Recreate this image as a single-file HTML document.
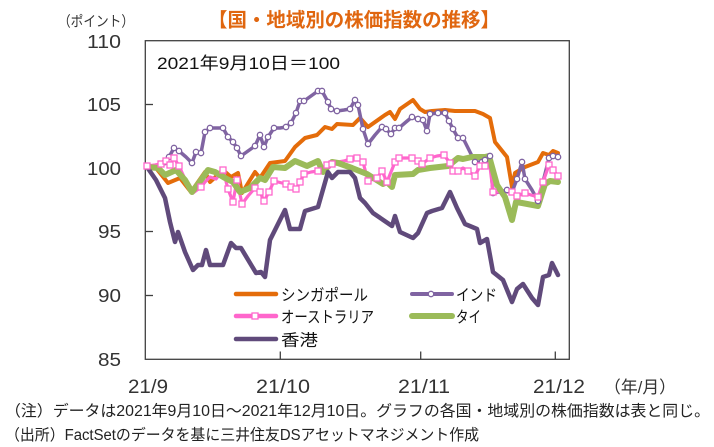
<!DOCTYPE html>
<html><head><meta charset="utf-8"><style>
html,body{margin:0;padding:0;background:#fff;}
svg{display:block;}
text{font-family:"Liberation Sans","Noto Sans CJK JP",sans-serif;}
</style></head><body>
<svg width="714" height="447" viewBox="0 0 714 447" xmlns="http://www.w3.org/2000/svg">
<rect width="714" height="447" fill="#fff"/>
<!-- title -->
<text x="208" y="26.5" font-size="19.5" font-weight="bold" fill="#E0660F" textLength="292" lengthAdjust="spacingAndGlyphs">【国・地域別の株価指数の推移】</text>
<text x="58" y="26.5" font-size="14.5" fill="#333" textLength="76" lengthAdjust="spacingAndGlyphs">（ポイント）</text>
<!-- y labels -->
<g font-size="18" fill="#333" text-anchor="end">
<text x="121" y="48" textLength="34" lengthAdjust="spacingAndGlyphs">110</text>
<text x="121" y="111" textLength="34" lengthAdjust="spacingAndGlyphs">105</text>
<text x="121" y="175" textLength="34" lengthAdjust="spacingAndGlyphs">100</text>
<text x="121" y="238" textLength="23" lengthAdjust="spacingAndGlyphs">95</text>
<text x="121" y="302" textLength="23" lengthAdjust="spacingAndGlyphs">90</text>
<text x="121" y="366" textLength="23" lengthAdjust="spacingAndGlyphs">85</text>
</g>
<!-- x labels -->
<g font-size="19.5" fill="#333">
<text x="128" y="393" textLength="40" lengthAdjust="spacingAndGlyphs">21/9</text>
<text x="256" y="393" textLength="54" lengthAdjust="spacingAndGlyphs">21/10</text>
<text x="398" y="393" textLength="52" lengthAdjust="spacingAndGlyphs">21/11</text>
<text x="533" y="393" textLength="52" lengthAdjust="spacingAndGlyphs">21/12</text>
<text x="604" y="393" font-size="17" textLength="72" lengthAdjust="spacingAndGlyphs">（年/月）</text>
</g>
<!-- frame -->
<rect x="145.3" y="40.7" width="424" height="318.6" fill="none" stroke="#404040" stroke-width="1.3"/>
<g stroke="#404040" stroke-width="1.3">
<line x1="145" y1="104.5" x2="153" y2="104.5"/>
<line x1="145" y1="168" x2="153" y2="168"/>
<line x1="145" y1="231.5" x2="153" y2="231.5"/>
<line x1="145" y1="295.5" x2="153" y2="295.5"/>
<line x1="280.3" y1="359" x2="280.3" y2="351.5"/>
<line x1="420.7" y1="359" x2="420.7" y2="351.5"/>
<line x1="555.3" y1="359" x2="555.3" y2="351.5"/>
</g>
<text x="157" y="69" font-size="17" fill="#111" textLength="183" lengthAdjust="spacingAndGlyphs">2021年9月10日＝100</text>
<!-- series -->
<g fill="none" stroke-linejoin="round" stroke-linecap="round">
<polyline stroke="#E46C0A" stroke-width="4" points="147,167 156,168 168,183 180,178 191,192 205,172 210,182 223,170 231,177 238,173 242,193 255,172 260,178 270,163 285,161 295,147 305,138 317,135 325,127 332,129 337,124 353,125 360,118 368,127 385,115 390,112 395,119 400,109 413,100 420,109 425,112 432,111 445,110 455,111 475,111 483,114 490,118 495,142 507,157 512,187 515,173 525,167 538,162 543,153 549,155 553,151 558,153"/>
<polyline id="ind" stroke="#8064A2" stroke-width="3.5" points="147,167 156,167 165,162 169,157 174,148 179,151 186,157 192,163 196,152 201,153 205,132 210,128 216,128 223,128 228,137 233,142 237,148 241,156 248,151 255,146 260,135 264,147 268,137 274,128 280,128 286,127 291,123 296,113 300,101 304,101 311,96 318,91 322,91 328,102 331,109 337,111 344,110 350,109 355,100 358,105 363,129 368,144 375,135 382,127 386,129 391,134 395,128 399,128 406,122 412,117 418,119 423,120 427,131 430,114 438,113 445,113 449,121 453,129 458,138 463,138 469,150 475,162 482,162 485,160 490,156 493,193 500,192 507,190 512,192 517,179 522,162 525,179 532,190 538,201 543,182 549,158 553,156 558,157"/>
<polyline stroke="#FF66CC" stroke-width="3.2" points="147,166 155,165 161,164 166,161 170,165 174,158 179,166 185,179 193,193 201,187 205,182 210,177 216,179 223,170 228,189 233,202 237,180 242,204 248,196 255,188 260,192 264,201 269,192 274,181 286,184 291,187 296,189 300,182 304,174 311,172 318,171 322,168 327,165 332,164 338,162 344,161 350,159 357,158 363,162 368,181 377,178 382,171 387,182 395,162 399,158 406,158 412,158 418,161 422,164 430,158 437,156 444,155 450,163 453,171 458,171 463,168 468,171 475,176 480,166 485,166 489,158 493,192 498,192 503,192 508,192 512,192 517,196 525,193 531,195 538,197 543,182 549,165 553,170 558,176"/>
<polyline stroke="#9BBB59" stroke-width="6" points="147,167 158,168 165,175 176,170 185,180 192,192 201,180 208,170 215,172 225,178 233,182 240,192 250,188 260,178 265,180 273,167 285,168 295,161 307,166 318,161 323,172 332,162 338,163 352,168 367,174 383,184 387,182 392,187 395,175 413,174 418,170 430,168 448,166 458,158 463,159 472,157 485,157 489,156 497,185 505,197 512,220 516,202 522,203 538,206 545,184 550,181 558,182"/>
<polyline stroke="#604A7B" stroke-width="4.5" points="147,167 156,180 165,198 170,222 175,242 178,232 185,252 193,270 198,265 202,265 206,250 210,265 223,265 231,243 236,248 241,248 256,273 261,272 265,277 270,240 285,210 290,229 300,229 305,211 318,207 328,172 332,178 338,172 350,172 355,178 360,198 365,203 373,213 392,226 395,216 400,232 413,238 418,233 427,213 432,211 442,208 450,192 457,208 465,224 477,229 480,243 487,239 493,272 503,280 512,302 517,289 523,284 532,298 538,305 543,277 549,275 552,263 558,275"/>
</g>
<!-- India markers -->
<g fill="#fff" stroke="#8064A2" stroke-width="1.3">
<circle cx="165" cy="162" r="2.7"/><circle cx="169" cy="157" r="2.7"/><circle cx="174" cy="148" r="2.7"/><circle cx="179" cy="151" r="2.7"/><circle cx="192" cy="163" r="2.7"/><circle cx="196" cy="152" r="2.7"/><circle cx="201" cy="153" r="2.7"/><circle cx="205" cy="132" r="2.7"/><circle cx="210" cy="128" r="2.7"/><circle cx="223" cy="128" r="2.7"/><circle cx="228" cy="137" r="2.7"/><circle cx="233" cy="142" r="2.7"/><circle cx="237" cy="148" r="2.7"/><circle cx="241" cy="156" r="2.7"/><circle cx="255" cy="146" r="2.7"/><circle cx="260" cy="135" r="2.7"/><circle cx="264" cy="147" r="2.7"/><circle cx="268" cy="137" r="2.7"/><circle cx="274" cy="128" r="2.7"/><circle cx="286" cy="127" r="2.7"/><circle cx="291" cy="123" r="2.7"/><circle cx="296" cy="113" r="2.7"/><circle cx="300" cy="101" r="2.7"/><circle cx="304" cy="101" r="2.7"/><circle cx="318" cy="91" r="2.7"/><circle cx="322" cy="91" r="2.7"/><circle cx="328" cy="102" r="2.7"/><circle cx="331" cy="109" r="2.7"/><circle cx="337" cy="111" r="2.7"/><circle cx="350" cy="109" r="2.7"/><circle cx="355" cy="100" r="2.7"/><circle cx="358" cy="105" r="2.7"/><circle cx="363" cy="129" r="2.7"/><circle cx="368" cy="144" r="2.7"/><circle cx="382" cy="127" r="2.7"/><circle cx="386" cy="129" r="2.7"/><circle cx="391" cy="134" r="2.7"/><circle cx="395" cy="128" r="2.7"/><circle cx="399" cy="128" r="2.7"/><circle cx="412" cy="117" r="2.7"/><circle cx="418" cy="119" r="2.7"/><circle cx="423" cy="120" r="2.7"/><circle cx="427" cy="131" r="2.7"/><circle cx="430" cy="114" r="2.7"/><circle cx="438" cy="113" r="2.7"/><circle cx="445" cy="113" r="2.7"/><circle cx="449" cy="121" r="2.7"/><circle cx="453" cy="129" r="2.7"/><circle cx="458" cy="138" r="2.7"/><circle cx="463" cy="138" r="2.7"/><circle cx="475" cy="162" r="2.7"/><circle cx="482" cy="162" r="2.7"/><circle cx="485" cy="160" r="2.7"/><circle cx="490" cy="156" r="2.7"/><circle cx="493" cy="193" r="2.7"/><circle cx="507" cy="190" r="2.7"/><circle cx="512" cy="192" r="2.7"/><circle cx="517" cy="179" r="2.7"/><circle cx="522" cy="162" r="2.7"/><circle cx="525" cy="179" r="2.7"/><circle cx="538" cy="201" r="2.7"/><circle cx="543" cy="182" r="2.7"/><circle cx="549" cy="158" r="2.7"/><circle cx="553" cy="156" r="2.7"/><circle cx="558" cy="157" r="2.7"/>
</g>
<!-- Australia markers -->
<g fill="#fff" stroke="#FF66CC" stroke-width="1.3">
<rect x="144" y="163" width="6" height="6"/><rect x="158" y="161" width="6" height="6"/><rect x="163" y="158" width="6" height="6"/><rect x="167" y="162" width="6" height="6"/><rect x="171" y="155" width="6" height="6"/><rect x="176" y="163" width="6" height="6"/><rect x="198" y="184" width="6" height="6"/><rect x="220" y="167" width="6" height="6"/><rect x="225" y="186" width="6" height="6"/><rect x="230" y="199" width="6" height="6"/><rect x="234" y="177" width="6" height="6"/><rect x="239" y="201" width="6" height="6"/><rect x="252" y="185" width="6" height="6"/><rect x="257" y="189" width="6" height="6"/><rect x="261" y="198" width="6" height="6"/><rect x="266" y="189" width="6" height="6"/><rect x="271" y="178" width="6" height="6"/><rect x="283" y="181" width="6" height="6"/><rect x="288" y="184" width="6" height="6"/><rect x="293" y="186" width="6" height="6"/><rect x="297" y="179" width="6" height="6"/><rect x="301" y="171" width="6" height="6"/><rect x="315" y="168" width="6" height="6"/><rect x="324" y="162" width="6" height="6"/><rect x="329" y="161" width="6" height="6"/><rect x="347" y="156" width="6" height="6"/><rect x="354" y="155" width="6" height="6"/><rect x="360" y="159" width="6" height="6"/><rect x="365" y="178" width="6" height="6"/><rect x="374" y="175" width="6" height="6"/><rect x="379" y="168" width="6" height="6"/><rect x="384" y="179" width="6" height="6"/><rect x="392" y="159" width="6" height="6"/><rect x="396" y="155" width="6" height="6"/><rect x="409" y="155" width="6" height="6"/><rect x="415" y="158" width="6" height="6"/><rect x="419" y="161" width="6" height="6"/><rect x="427" y="155" width="6" height="6"/><rect x="441" y="152" width="6" height="6"/><rect x="447" y="160" width="6" height="6"/><rect x="450" y="168" width="6" height="6"/><rect x="455" y="168" width="6" height="6"/><rect x="465" y="168" width="6" height="6"/><rect x="472" y="173" width="6" height="6"/><rect x="477" y="163" width="6" height="6"/><rect x="482" y="163" width="6" height="6"/><rect x="490" y="189" width="6" height="6"/><rect x="509" y="189" width="6" height="6"/><rect x="514" y="193" width="6" height="6"/><rect x="522" y="190" width="6" height="6"/><rect x="535" y="194" width="6" height="6"/><rect x="540" y="179" width="6" height="6"/><rect x="546" y="162" width="6" height="6"/><rect x="550" y="167" width="6" height="6"/><rect x="555" y="173" width="6" height="6"/>
</g>
<!-- legend -->
<g stroke-linecap="round">
<line x1="236" y1="294" x2="276" y2="294" stroke="#E46C0A" stroke-width="4.5"/>
<line x1="236" y1="316" x2="276" y2="316" stroke="#FF66CC" stroke-width="4.5"/>
<line x1="236" y1="339" x2="276" y2="339" stroke="#604A7B" stroke-width="4.5"/>
<line x1="412" y1="294" x2="452" y2="294" stroke="#8064A2" stroke-width="4"/>
<line x1="412" y1="316" x2="452" y2="316" stroke="#9BBB59" stroke-width="6"/>
</g>
<rect x="252" y="313" width="6" height="6" fill="#fff" stroke="#FF66CC" stroke-width="1.3"/>
<circle cx="431" cy="294" r="2.7" fill="#fff" stroke="#8064A2" stroke-width="1.3"/>
<g font-size="16" fill="#111">
<text x="281" y="300.5" textLength="87" lengthAdjust="spacingAndGlyphs">シンガポール</text>
<text x="281" y="322.5" textLength="93" lengthAdjust="spacingAndGlyphs">オーストラリア</text>
<text x="281" y="345.5" textLength="37" lengthAdjust="spacingAndGlyphs">香港</text>
<text x="456" y="300.5" textLength="41" lengthAdjust="spacingAndGlyphs">インド</text>
<text x="456" y="322.5" textLength="25" lengthAdjust="spacingAndGlyphs">タイ</text>
</g>
<!-- footnotes -->
<g font-size="15.5" fill="#222">
<text x="5" y="416" textLength="705" lengthAdjust="spacingAndGlyphs">（注）データは2021年9月10日～2021年12月10日。グラフの各国・地域別の株価指数は表と同じ。</text>
<text x="5" y="440" textLength="474" lengthAdjust="spacingAndGlyphs">（出所）FactSetのデータを基に三井住友DSアセットマネジメント作成</text>
</g>
</svg>
</body></html>
